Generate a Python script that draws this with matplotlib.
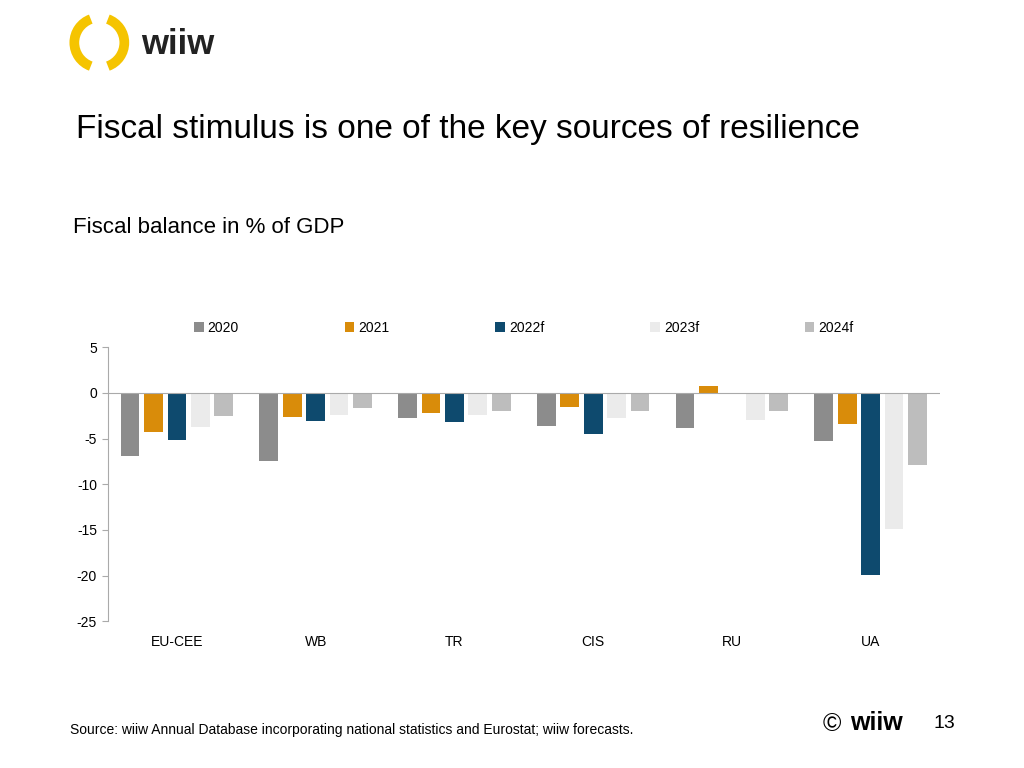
import matplotlib.pyplot as plt
import numpy as np
from matplotlib.patches import Arc

regions = ['EU-CEE', 'WB', 'TR', 'CIS', 'RU', 'UA']
years = ['2020', '2021', '2022f', '2023f', '2024f']
v2020 = [-6.9, -7.5, -2.8, -3.6, -3.9, -5.3]
v2021 = [-4.3, -2.6, -2.2, -1.5, 0.8, -3.4]
v2022 = [-5.2, -3.1, -3.2, -4.5, 0.0, -19.9]
v2023 = [-3.7, -2.4, -2.4, -2.7, -3.0, -14.9]
v2024 = [-2.5, -1.7, -2.0, -2.0, -2.0, -7.9]
colors = ['#8c8c8c', '#d98c0a', '#0e4a6e', '#ebebeb', '#bdbdbd']

plt.rcParams['font.family'] = ['Liberation Sans', 'DejaVu Sans']
plt.rcParams['axes.unicode_minus'] = False
fig = plt.figure(figsize=(10.24, 7.68), dpi=100)

# logo
ax_logo = fig.add_axes([0.062, 0.898, 0.07, 0.093])
ax_logo.set_xlim(-1, 1); ax_logo.set_ylim(-1, 1); ax_logo.set_aspect('equal'); ax_logo.axis('off')
ax_logo.add_patch(Arc((0, 0), 1.4, 1.4, theta1=110, theta2=250, lw=7, color='#f5c400'))
ax_logo.add_patch(Arc((0, 0), 1.4, 1.4, theta1=290, theta2=70, lw=7, color='#f5c400'))
fig.text(0.138, 0.942, 'wiiw', fontsize=25, fontweight='bold', color='#222222', va='center')

fig.text(0.074, 0.831, 'Fiscal stimulus is one of the key sources of resilience', fontsize=24, va='center')
fig.text(0.071, 0.704, 'Fiscal balance in % of GDP', fontsize=16, va='center')
fig.text(0.068, 0.049, 'Source: wiiw Annual Database incorporating national statistics and Eurostat; wiiw forecasts.', fontsize=10, va='center')
fig.text(0.803, 0.057, '©', fontsize=18, va='center')
fig.text(0.830, 0.058, 'wiiw', fontsize=18, fontweight='bold', va='center')
fig.text(0.912, 0.058, '13', fontsize=14, va='center')

ax = fig.add_axes([0.105, 0.191, 0.813, 0.357])
x = np.arange(len(regions))
w = 0.135
for i, (vals, lab) in enumerate(zip([v2020, v2021, v2022, v2023, v2024], years)):
    ax.bar(x + (i - 2) * w * 1.25, vals, w, color=colors[i], label=lab)
ax.set_xlim(-0.5, len(regions) - 0.5)
ax.set_ylim(-25, 5)
ax.set_yticks(range(-25, 6, 5))
ax.set_xticks(x)
ax.set_xticklabels(regions)
ax.tick_params(axis='x', labelsize=10, length=0, pad=10)
ax.tick_params(axis='y', labelsize=10, length=4, color='#aaaaaa', direction='out')
ax.axhline(0, color='#aaaaaa', lw=0.8)
for s in ['top', 'right', 'bottom']:
    ax.spines[s].set_visible(False)
ax.spines['left'].set_color('#aaaaaa')
ax.legend(loc='lower center', bbox_to_anchor=(0.5, 1.0), ncol=5, frameon=False,
          fontsize=10, handlelength=0.7, handleheight=0.7, columnspacing=7.6, handletextpad=0.3)

fig.savefig('out.png', dpi=100)
